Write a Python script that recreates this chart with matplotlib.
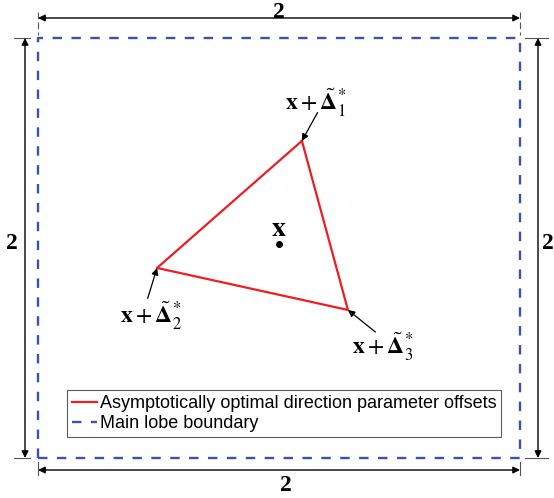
import matplotlib
matplotlib.use("Agg")
import matplotlib.pyplot as plt

plt.rcParams['mathtext.fontset'] = 'stix'

# Data (normalized coordinates, main lobe = [-1,1]x[-1,1])
center = (0.0, 0.02)
tri_x = [0.095, -0.506, 0.286]
tri_y = [0.51, -0.095, -0.295]
box_x = [-1, 1, 1, -1, -1]
box_y = [-1, -1, 1, 1, -1]
vertex_labels = [r'$\mathbf{x}+\tilde{\mathbf{\Delta}}_1^{*}$',
                 r'$\mathbf{x}+\tilde{\mathbf{\Delta}}_2^{*}$',
                 r'$\mathbf{x}+\tilde{\mathbf{\Delta}}_3^{*}$']
label_pos = [(0.152, 0.69), (-0.53, -0.324), (0.43, -0.47)]
arrow_tail = [(0.16, 0.645), (-0.545, -0.24), (0.40, -0.40)]
dim_label = '2'

W, H = 554, 498
fig = plt.figure(figsize=(W/100, H/100), dpi=100)
L, R, T, B = 38, 520, 38, 458
ax = fig.add_axes([L/W, 1-B/H, (R-L)/W, (B-T)/H])
ax.set_xlim(-1, 1)
ax.set_ylim(-1, 1)
ax.axis('off')

red = '#ee1d23'
blue = '#3b52a5'

ax.plot(box_x, box_y, ls=(0, (4, 4)), color=blue, lw=1.7, clip_on=False,
        label='Main lobe boundary')
tx = tri_x + [tri_x[0]]
ty = tri_y + [tri_y[0]]
ax.plot(tx, ty, color=red, lw=1.6, label='Asymptotically optimal direction parameter offsets')
ax.plot(*center, 'o', color='black', ms=4)
ax.text(center[0], 0.095, r'$\mathbf{x}$', fontsize=20, ha='center', va='center')

for (lx, ly), (ax_, ay_), xv, yv, lab in zip(label_pos, arrow_tail, tri_x, tri_y, vertex_labels):
    ax.annotate('', xy=(xv, yv), xytext=(ax_, ay_),
                arrowprops=dict(arrowstyle='-|>', color='black', lw=0.9,
                                mutation_scale=10, shrinkA=0, shrinkB=0))
    ax.text(lx, ly, lab, fontsize=17, ha='center', va='center')

sx = 2.0 / (R - L)
sy = 2.0 / (B - T)
ext_color = '#555555'
arr = dict(arrowstyle='<|-|>', color='black', lw=1.0, mutation_scale=10, shrinkA=0, shrinkB=0)

# top
yt = 1 + (T - 18) * sy
ax.annotate('', xy=(-1, yt), xytext=(1, yt), arrowprops=arr, annotation_clip=False)
for xv in (-1, 1):
    ax.plot([xv, xv], [1 + (T - 12) * sy, 1 + (T - 35) * sy], color=ext_color, lw=0.8,
            ls=(0, (6, 3)), clip_on=False)
ax.text(0, 1 + (T - 12) * sy, dim_label, fontsize=17, fontweight='bold', family='Liberation Serif',
        ha='center', va='center')
# bottom
yb = -1 - (470 - B) * sy
ax.annotate('', xy=(-1, yb), xytext=(1, yb), arrowprops=arr, annotation_clip=False)
for xv in (-1, 1):
    ax.plot([xv, xv], [-1 - (462 - B) * sy, -1 - (475 - B) * sy], color=ext_color, lw=0.8,
            clip_on=False)
ax.text(0.03, -1 - (485 - B) * sy, dim_label, fontsize=17, fontweight='bold', family='Liberation Serif',
        ha='center', va='center')
# left
xl = -1 - (L - 25) * sx
ax.annotate('', xy=(xl, -1), xytext=(xl, 1), arrowprops=arr, annotation_clip=False)
for yv in (-1, 1):
    ax.plot([-1 - (L - 14) * sx, -1 - (L - 30) * sx], [yv, yv], color=ext_color, lw=0.8, clip_on=False)
ax.text(-1 - (L - 12) * sx, 0.02, dim_label, fontsize=17, fontweight='bold', family='Liberation Serif',
        ha='center', va='center')
# right
xr = 1 + (538 - R) * sx
ax.annotate('', xy=(xr, -1), xytext=(xr, 1), arrowprops=arr, annotation_clip=False)
for yv in (-1, 1):
    ax.plot([1 + (525 - R) * sx, 1 + (548 - R) * sx], [yv, yv], color=ext_color, lw=0.8, clip_on=False)
ax.text(1 + (548 - R) * sx, 0.02, dim_label, fontsize=17, fontweight='bold', family='Liberation Serif',
        ha='center', va='center')

handles, labels = ax.get_legend_handles_labels()
leg = ax.legend(handles[::-1], labels[::-1], loc='lower left',
                bbox_to_anchor=(67 / W, 1 - 437 / H), bbox_transform=fig.transFigure,
                prop={'family': 'Liberation Sans', 'size': 13}, frameon=True, fancybox=False,
                edgecolor='#333333', handlelength=1.4, handletextpad=0.15, borderpad=0.25,
                labelspacing=0.2, borderaxespad=0)
leg.get_frame().set_linewidth(0.8)

fig.savefig('out.png', dpi=100)
